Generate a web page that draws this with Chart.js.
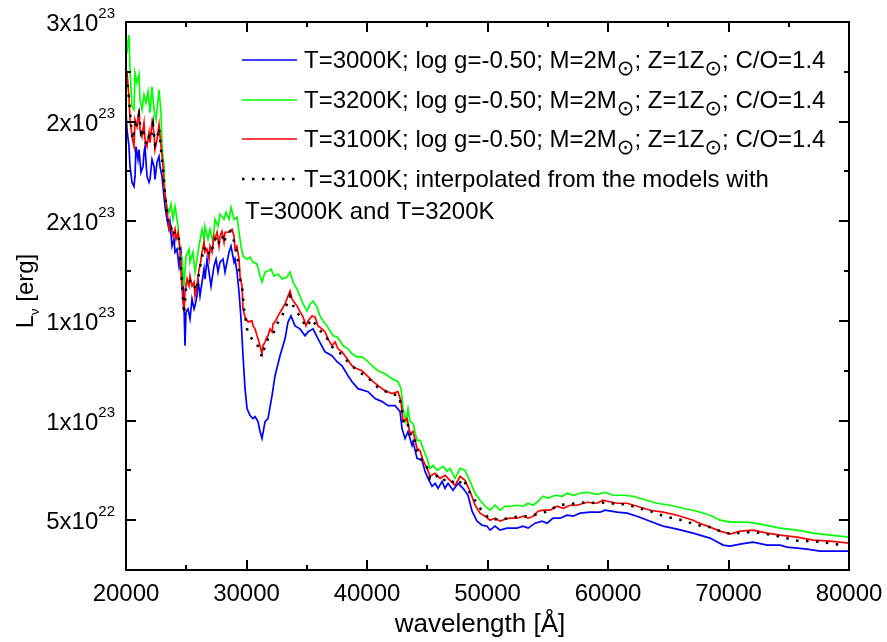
<!DOCTYPE html>
<html>
<head>
<meta charset="utf-8">
<script src="https://cdn.jsdelivr.net/npm/chart.js@4.4.0/dist/chart.umd.min.js"></script>
<style>
  html, body { margin: 0; padding: 0; background: #fff; }
  #chart { display: block; }
</style>
</head>
<body>
<canvas id="chart" width="887" height="642"></canvas>
<script>
// Spectra: [wavelength (Å), L_nu (units of 1e23 erg)]
const spec3000 = [
  [20000,2.55],[20083,2.46],[20249,2.375],[20332,2.275],[20498,2.195],[20664,2.175],[20747,2.225],[20830,2.375],[20996,2.31],[21079,2.36],
  [21245,2.245],[21411,2.275],[21494,2.345],[21577,2.375],[21743,2.225],[21909,2.195],[21992,2.21],[22158,2.31],[22324,2.275],[22407,2.21],
  [22573,2.295],[22739,2.325],[22822,2.275],[22988,2.225],[23154,2.125],[23237,2.075],[23403,2.01],[23569,1.96],[23652,1.995],[23818,1.875],
  [23984,1.91],[24067,1.845],[24233,1.86],[24399,1.775],[24565,1.845],[24731,1.71],[24814,1.575],[24897,1.375],[24980,1.545],[25146,1.56],
  [25312,1.51],[25478,1.61],[25644,1.56],[25727,1.575],[25893,1.625],[25976,1.71],[26142,1.625],[26308,1.695],[26474,1.76],[26557,1.71],
  [26723,1.81],[26889,1.745],[27055,1.675],[27304,1.775],[27470,1.81],[27636,1.745],[27802,1.795],[28051,1.81],[28217,1.745],[28383,1.795],
  [28549,1.845],[28715,1.875],[28964,1.795],[29047,1.81],[29213,1.745],[29379,1.645],[29545,1.51],[29711,1.325],[29877,1.16],[30043,1.06],
  [30292,1.025],[30541,1.01],[30707,1.02],[30956,0.995],[31122,0.945],[31288,0.91],[31537,0.995],[31786,1.01],[32118,1.125],[32367,1.225],
  [32782,1.325],[33197,1.41],[33446,1.495],[33695,1.525],[34027,1.475],[34442,1.46],[34857,1.425],[35106,1.445],[35521,1.46],[35936,1.41],
  [36517,1.345],[37098,1.325],[37513,1.295],[37928,1.275],[38426,1.225],[38758,1.195],[39256,1.16],[40086,1.145],[40667,1.11],[41248,1.095],
  [41746,1.075],[42327,1.075],[42742,1.045],[42908,0.96],[43157,0.91],[43406,0.945],[43738,0.875],[43821,0.895],[44153,0.81],[44568,0.80],
  [44817,0.745],[45066,0.71],[45398,0.67],[45647,0.685],[45896,0.66],[46228,0.695],[46477,0.66],[46726,0.685],[47141,0.65],[47556,0.685],
  [47971,0.66],[48386,0.625],[48718,0.545],[49133,0.495],[49548,0.475],[49963,0.47],[50212,0.45],[50627,0.47],[51042,0.45],[51623,0.46],
  [52453,0.46],[52951,0.47],[53366,0.46],[53947,0.485],[54528,0.495],[54943,0.485],[55441,0.51],[56022,0.51],[56603,0.525],[57101,0.52],
  [57682,0.535],[58512,0.54],[59342,0.54],[59757,0.55],[60753,0.54],[61583,0.535],[62413,0.52],[63492,0.495],[64571,0.47],[65733,0.455],
  [67061,0.435],[68472,0.41],[69551,0.375],[70132,0.37],[70962,0.38],[72041,0.39],[73203,0.375],[74282,0.375],[74863,0.365],[76523,0.355],
  [77602,0.345],[78681,0.345],[80000,0.345]
];

const spec3200 = [
  [20000,2.96],[20083,2.845],[20249,2.935],[20332,2.76],[20498,2.575],[20664,2.56],[20747,2.745],[20913,2.695],[21079,2.735],[21162,2.61],
  [21328,2.56],[21494,2.635],[21660,2.595],[21826,2.65],[21992,2.545],[22158,2.675],[22324,2.56],[22490,2.51],[22739,2.66],[22905,2.545],
  [22988,2.375],[23154,2.275],[23237,2.145],[23403,2.075],[23569,2.045],[23735,2.085],[23901,2.01],[24067,2.075],[24150,2.045],[24316,1.975],
  [24482,1.845],[24648,1.81],[24814,1.675],[24980,1.825],[25229,1.86],[25312,1.795],[25561,1.845],[25727,1.745],[25893,1.81],[26059,1.875],
  [26308,1.96],[26474,1.91],[26557,1.975],[26806,1.91],[26972,1.96],[27221,1.895],[27387,2.01],[27636,1.975],[27802,2.035],[28134,2.01],
  [28300,2.045],[28549,2.01],[28715,2.07],[28964,2.01],[29213,2.02],[29379,1.945],[29545,1.875],[29711,1.825],[30043,1.81],[30292,1.82],
  [30541,1.795],[30873,1.785],[31122,1.725],[31288,1.695],[31537,1.745],[31786,1.75],[32035,1.76],[32284,1.725],[32616,1.735],[32948,1.71],
  [33363,1.72],[33612,1.745],[33861,1.695],[34193,1.66],[34442,1.625],[34691,1.585],[35023,1.55],[35272,1.585],[35521,1.60],[35853,1.57],
  [36102,1.525],[36351,1.50],[36683,1.475],[36932,1.45],[37181,1.425],[37513,1.42],[37762,1.40],[38011,1.375],[38426,1.36],[38758,1.335],
  [39173,1.32],[39588,1.32],[40003,1.30],[40418,1.275],[40916,1.25],[41497,1.235],[42078,1.21],[42576,1.195],[42825,1.16],[42991,1.06],
  [43240,0.995],[43406,1.06],[43572,0.995],[43821,0.985],[44153,0.90],[44402,0.90],[44651,0.86],[44983,0.81],[45232,0.76],[45481,0.775],
  [45813,0.75],[46062,0.76],[46311,0.77],[46643,0.745],[46892,0.76],[47307,0.71],[47722,0.76],[48137,0.75],[48552,0.695],[48967,0.635],
  [49382,0.60],[49797,0.57],[50212,0.55],[50627,0.575],[51042,0.55],[51457,0.57],[51872,0.57],[52453,0.575],[52951,0.57],[53366,0.585],
  [53781,0.575],[54196,0.595],[54611,0.62],[55026,0.61],[55607,0.625],[56188,0.62],[56603,0.635],[57101,0.625],[57682,0.635],[58263,0.64],
  [59093,0.63],[59757,0.64],[60421,0.625],[61251,0.625],[62081,0.62],[62911,0.605],[64073,0.585],[65152,0.575],[66231,0.56],[67393,0.545],
  [68472,0.525],[69302,0.50],[70132,0.49],[71543,0.49],[72622,0.48],[74282,0.46],[75693,0.45],[77021,0.435],[78432,0.425],[80000,0.415]
];

const spec3100 = [
  [20000,2.76],[20083,2.745],[20249,2.625],[20332,2.51],[20498,2.425],[20664,2.375],[20747,2.51],[20913,2.475],[21079,2.56],[21162,2.46],
  [21328,2.425],[21494,2.495],[21577,2.41],[21743,2.375],[21909,2.445],[21992,2.395],[22158,2.495],[22324,2.445],[22407,2.36],[22573,2.41],
  [22739,2.485],[22905,2.375],[23071,2.275],[23154,2.175],[23320,2.095],[23486,2.01],[23569,1.96],[23735,1.975],[23901,1.925],[24067,1.96],
  [24150,1.91],[24316,1.945],[24482,1.86],[24565,1.745],[24731,1.595],[24814,1.545],[24897,1.645],[25063,1.71],[25229,1.675],[25312,1.725],
  [25478,1.675],[25644,1.695],[25727,1.625],[25893,1.675],[26059,1.76],[26142,1.775],[26308,1.845],[26474,1.895],[26557,1.845],[26723,1.86],
  [26889,1.81],[26972,1.875],[27138,1.845],[27304,1.925],[27387,1.91],[27553,1.945],[27719,1.875],[27802,1.925],[27968,1.95],[28134,1.895],
  [28217,1.945],[28466,1.945],[28632,1.95],[28798,1.96],[28964,1.925],[29047,1.86],[29213,1.875],[29379,1.81],[29462,1.725],[29628,1.675],
  [29711,1.56],[29877,1.52],[30126,1.495],[30458,1.50],[30541,1.475],[30707,1.46],[30873,1.425],[30956,1.41],[31122,1.375],[31288,1.335],
  [31371,1.375],[31537,1.395],[31703,1.42],[31786,1.425],[31952,1.46],[32118,1.445],[32201,1.485],[32367,1.495],[32616,1.525],[32948,1.56],
  [33197,1.585],[33446,1.625],[33612,1.65],[33778,1.61],[33944,1.595],[34193,1.575],[34442,1.545],[34691,1.52],[34940,1.475],[35106,1.50],
  [35438,1.525],[35687,1.52],[35936,1.475],[36268,1.46],[36517,1.445],[36766,1.41],[37098,1.375],[37347,1.395],[37596,1.36],[37928,1.345],
  [38343,1.31],[38758,1.275],[39173,1.26],[39588,1.25],[40003,1.225],[40418,1.20],[40916,1.175],[41497,1.15],[42078,1.135],[42576,1.145],
  [42825,1.095],[42991,0.995],[43323,1.01],[43572,0.935],[43821,0.945],[44153,0.86],[44402,0.85],[44651,0.80],[44983,0.76],[45232,0.72],
  [45647,0.735],[46062,0.71],[46477,0.725],[46892,0.70],[47307,0.675],[47722,0.72],[48137,0.70],[48552,0.645],[48967,0.575],[49382,0.535],
  [49797,0.52],[50212,0.50],[50627,0.51],[51042,0.495],[51457,0.505],[51872,0.51],[52453,0.51],[52951,0.52],[53366,0.51],[53781,0.52],
  [54196,0.545],[54611,0.55],[55192,0.55],[55773,0.57],[56271,0.56],[56852,0.575],[57433,0.575],[58263,0.59],[59093,0.585],[59591,0.60],
  [59923,0.595],[60753,0.585],[61583,0.585],[62413,0.57],[63492,0.55],[64571,0.54],[65733,0.525],[67061,0.50],[67393,0.49],[68472,0.465],
  [69302,0.445],[70132,0.43],[70962,0.445],[72041,0.45],[73203,0.435],[74282,0.425],[75693,0.415],[77021,0.40],[78432,0.395],[80000,0.385]
];

const spec3100interp = [
  [20000,2.735],[20083,2.71],[20249,2.61],[20415,2.485],[20581,2.41],[20747,2.485],[20913,2.485],[21079,2.535],[21245,2.445],[21411,2.47],
  [21577,2.40],[21743,2.385],[21909,2.425],[22075,2.41],[22241,2.485],[22407,2.385],[22573,2.41],[22739,2.47],[22905,2.36],[23071,2.26],
  [23237,2.135],[23403,2.05],[23569,1.97],[23735,1.97],[23901,1.93],[24067,1.95],[24233,1.92],[24399,1.91],[24565,1.76],[24731,1.61],
  [24814,1.535],[24980,1.66],[25146,1.695],[25312,1.70],[25478,1.68],[25644,1.685],[25810,1.65],[25976,1.71],[26142,1.77],[26308,1.82],
  [26474,1.87],[26640,1.85],[26806,1.83],[26972,1.86],[27138,1.85],[27304,1.91],[27470,1.91],[27636,1.88],[27802,1.91],[27968,1.93],
  [28134,1.89],[28300,1.93],[28466,1.94],[28632,1.95],[28798,1.935],[28964,1.90],[29130,1.86],[29296,1.80],[29462,1.71],[29628,1.675],
  [29794,1.56],[30043,1.46],[30292,1.425],[30541,1.40],[30873,1.385],[31122,1.345],[31288,1.32],[31537,1.375],[31786,1.41],[32201,1.435],
  [32533,1.485],[32948,1.525],[33363,1.585],[33612,1.625],[34027,1.55],[34442,1.525],[34940,1.47],[35438,1.51],[35936,1.46],[36517,1.43],
  [37098,1.37],[37596,1.35],[38343,1.30],[39173,1.25],[40003,1.22],[40916,1.165],[42078,1.13],[42576,1.13],[42825,1.08],[43074,0.99],
  [43323,1.00],[43572,0.93],[43821,0.935],[44153,0.85],[44568,0.80],[44983,0.765],[45232,0.71],[45647,0.73],[46228,0.695],[46643,0.71],
  [47058,0.695],[47556,0.675],[47971,0.71],[48552,0.635],[49133,0.585],[49548,0.545],[50212,0.505],[51042,0.505],[51872,0.51],[52702,0.52],
  [53532,0.52],[54362,0.535],[55026,0.545],[55856,0.575],[56686,0.58],[57516,0.585],[58346,0.59],[59093,0.585],[59923,0.59],[60753,0.58],
  [61583,0.58],[62496,0.56],[63326,0.55],[64156,0.53],[64986,0.515],[65816,0.505],[66646,0.49],[67476,0.475],[68472,0.465],[69302,0.445],
  [70298,0.43],[71128,0.44],[71958,0.44],[72788,0.435],[73618,0.425],[74531,0.415],[75361,0.40],[76191,0.395],[77021,0.395],[77851,0.39],
  [78681,0.38],[79677,0.375]
];

const xMajorTicks = [20000, 30000, 40000, 50000, 60000, 70000, 80000];
const xMinorTicks = [25000, 35000, 45000, 55000, 65000, 75000];
const yMajorTicks = [0.5, 1.0, 1.5, 2.0, 2.5, 3.0];
const yMinorTicks = [0.75, 1.25, 1.75, 2.25, 2.75];
// tick labels as printed on the axis: mantissa x 10^exponent
const yTickLabels = [['5x10', '22'], ['1x10', '23'], ['1x10', '23'], ['2x10', '23'], ['2x10', '23'], ['3x10', '23']];

const FONT = "'Liberation Sans', Arial, sans-serif";

const toXY = arr => arr.map(p => ({ x: p[0], y: p[1] }));

// box, inward ticks, tick labels, axis titles
const framePlugin = {
  id: 'frame',
  afterDatasetsDraw(chart) {
    const { ctx, chartArea: a, scales: { x, y } } = chart;
    ctx.save();
    ctx.strokeStyle = '#000';
    ctx.lineWidth = 2;
    ctx.strokeRect(a.left, a.top, a.right - a.left, a.bottom - a.top);

    const xTick = (v, len) => {
      const px = Math.round(x.getPixelForValue(v));
      ctx.beginPath();
      ctx.moveTo(px, a.bottom); ctx.lineTo(px, a.bottom - len);
      ctx.moveTo(px, a.top); ctx.lineTo(px, a.top + len);
      ctx.stroke();
    };
    const yTick = (v, len) => {
      const py = Math.round(y.getPixelForValue(v));
      ctx.beginPath();
      ctx.moveTo(a.left, py); ctx.lineTo(a.left + len, py);
      ctx.moveTo(a.right, py); ctx.lineTo(a.right - len, py);
      ctx.stroke();
    };
    xMajorTicks.forEach(v => xTick(v, 10));
    xMinorTicks.forEach(v => xTick(v, 5));
    yMajorTicks.forEach(v => yTick(v, 10));
    yMinorTicks.forEach(v => yTick(v, 5));

    ctx.fillStyle = '#000';
    ctx.textBaseline = 'alphabetic';

    // x tick labels
    ctx.font = '24px ' + FONT;
    ctx.textAlign = 'center';
    xMajorTicks.forEach(v => ctx.fillText(String(v), x.getPixelForValue(v), a.bottom + 31));

    // y tick labels with superscript exponent
    ctx.textAlign = 'right';
    yMajorTicks.forEach((v, i) => {
      const py = y.getPixelForValue(v);
      const [base, exp] = yTickLabels[i];
      ctx.font = '15px ' + FONT;
      ctx.fillText(exp, 115, py - 4);
      const ew = ctx.measureText(exp).width;
      ctx.font = '24px ' + FONT;
      ctx.fillText(base, 115 - ew, py + 9);
    });

    // x title
    ctx.textAlign = 'center';
    ctx.font = '26px ' + FONT;
    ctx.fillText('wavelength [Å]', 480, 632);

    // y title: L with subscript nu
    ctx.save();
    ctx.translate(33, 291);
    ctx.rotate(-Math.PI / 2);
    ctx.textAlign = 'left';
    ctx.font = '24px ' + FONT;
    const wL = ctx.measureText('L').width;
    const wRest = ctx.measureText(' [erg]').width;
    ctx.font = '13px ' + FONT;
    const wNu = ctx.measureText('ν').width;
    let sx = -(wL + wNu + wRest) / 2;
    ctx.font = '24px ' + FONT;
    ctx.fillText('L', sx, 0);
    ctx.font = '13px ' + FONT;
    ctx.fillText('ν', sx + wL, 6);
    ctx.font = '24px ' + FONT;
    ctx.fillText(' [erg]', sx + wL + wNu, 0);
    ctx.restore();

    ctx.restore();
  }
};

// text with ⊙ drawn as subscripts
function drawRich(ctx, text, x, y) {
  const parts = text.split('⊙');
  let cx = x;
  parts.forEach((p, i) => {
    ctx.font = '24px ' + FONT;
    ctx.fillText(p, cx, y);
    cx += ctx.measureText(p).width;
    if (i < parts.length - 1) {
      ctx.font = "21px 'DejaVu Sans', sans-serif";
      ctx.fillText('⊙', cx, y + 7);
      cx += ctx.measureText('⊙').width;
    }
  });
}

const legendPlugin = {
  id: 'specLegend',
  afterDraw(chart) {
    const { ctx } = chart;
    const rows = [60, 100, 139, 179];
    const order = [3, 2, 1, 0]; // dataset indices: 3000K, 3200K, 3100K, interpolated
    ctx.save();
    ctx.fillStyle = '#000';
    ctx.textAlign = 'left';
    ctx.textBaseline = 'alphabetic';
    order.forEach((di, r) => {
      const ds = chart.data.datasets[di];
      const yy = rows[r];
      ctx.save();
      ctx.strokeStyle = ds.borderColor;
      ctx.lineWidth = ds.borderWidth;
      ctx.setLineDash(ds.borderDash || []);
      ctx.beginPath();
      ctx.moveTo(242, yy);
      ctx.lineTo(297, yy);
      ctx.stroke();
      ctx.restore();
      const lines = ds.label.split('\n');
      drawRich(ctx, lines[0], 304, yy + 8);
      if (lines[1]) drawRich(ctx, lines[1], 245, yy + 40);
    });
    ctx.restore();
  }
};

new Chart(document.getElementById('chart'), {
  type: 'line',
  data: {
    datasets: [
      {
        label: 'T=3100K; interpolated from the models with\nT=3000K and T=3200K',
        data: toXY(spec3100interp),
        borderColor: '#000000',
        borderWidth: 2.5,
        borderDash: [2.5, 7.5],
        borderCapStyle: 'butt',
        order: 0
      },
      {
        label: 'T=3100K; log g=-0.50; M=2M⊙; Z=1Z⊙; C/O=1.4',
        data: toXY(spec3100),
        borderColor: '#ff0000',
        borderWidth: 1.7,
        order: 1
      },
      {
        label: 'T=3200K; log g=-0.50; M=2M⊙; Z=1Z⊙; C/O=1.4',
        data: toXY(spec3200),
        borderColor: '#00ff00',
        borderWidth: 1.7,
        order: 2
      },
      {
        label: 'T=3000K; log g=-0.50; M=2M⊙; Z=1Z⊙; C/O=1.4',
        data: toXY(spec3000),
        borderColor: '#0000ff',
        borderWidth: 1.7,
        order: 3
      }
    ]
  },
  options: {
    responsive: false,
    devicePixelRatio: 1,
    animation: false,
    layout: { padding: { left: 126, right: 38, top: 22, bottom: 72 } },
    elements: { point: { radius: 0 }, line: { tension: 0, fill: false } },
    plugins: { legend: { display: false }, tooltip: { enabled: false } },
    scales: {
      x: { type: 'linear', min: 20000, max: 80000, display: false },
      y: { type: 'linear', min: 0.25, max: 3.0, display: false }
    }
  },
  plugins: [framePlugin, legendPlugin]
});
</script>
</body>
</html>
